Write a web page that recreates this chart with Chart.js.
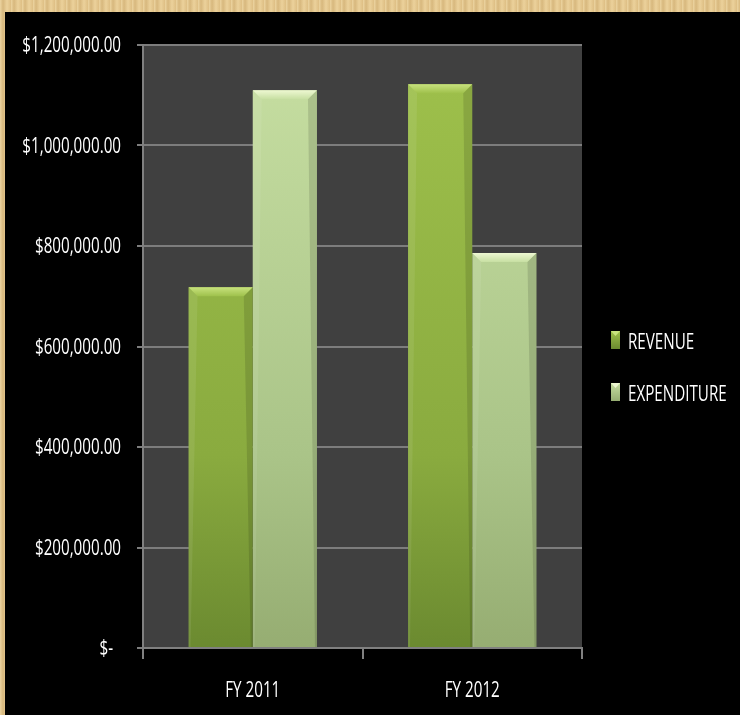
<!DOCTYPE html>
<html>
<head>
<meta charset="utf-8">
<script src="https://cdn.jsdelivr.net/npm/chart.js@4/dist/chart.umd.min.js"></script>
<style>
  html, body { margin: 0; padding: 0; }
  body {
    width: 740px; height: 715px; overflow: hidden; position: relative;
    background-color: #e3c68c;
    background-image:
      repeating-linear-gradient(90deg, rgba(255,240,200,0.35) 0px, rgba(180,140,80,0.25) 3px, rgba(255,235,190,0.3) 7px, rgba(200,160,100,0.2) 11px);
  }
  #wrap { position: absolute; left: 5px; top: 12px; width: 735px; height: 703px; background: #000; }
</style>
</head>
<body>
<div id="wrap"><canvas id="chart"></canvas></div>
<script>
document.addEventListener("DOMContentLoaded", function() {
    const categories = ['FY 2011', 'FY 2012'];
    const revenue = [718000, 1122000];
    const expenditure = [1110000, 786000];
    const seriesNames = ['REVENUE', 'EXPENDITURE'];

    const fontFamily = "'Open Sans', 'DejaVu Sans', sans-serif";
    const squeeze = 0.69;   // the original text is tall and narrow

    // body colours: [top, middle, bottom, bevel]
    const palette = [
        ['#9fc14c', '#8aab3f', '#6b8a30', '#c8e27e'],
        ['#c7dfa2', '#aac488', '#96ad72', '#eef8d2']
    ];

    function money(v) {
        if (v === 0) return '$-  ';
        return '$' + v.toLocaleString('en-US', { minimumFractionDigits: 2, maximumFractionDigits: 2 });
    }

    function narrowText(c, text, x, y, align) {
        c.save();
        c.translate(x, y);
        c.scale(squeeze, 1);
        c.textAlign = align;
        c.fillText(text, 0, 0);
        c.restore();
    }

    function barFill(idx) {
        return function(context) {
            const area = context.chart.chartArea;
            if (!area) return palette[idx][0];
            const g = context.chart.ctx.createLinearGradient(0, area.top, 0, area.bottom);
            g.addColorStop(0, palette[idx][0]);
            g.addColorStop(0.68, palette[idx][1]);
            g.addColorStop(1, palette[idx][2]);
            return g;
        };
    }

    const plotBackground = {
        id: 'plotBackground',
        beforeDraw(chart) {
            const a = chart.chartArea, c = chart.ctx;
            c.save();
            c.fillStyle = '#404040';
            c.fillRect(a.left, a.top, a.right - a.left, a.bottom - a.top);
            c.restore();
        }
    };

    // bevelled top edge, like the office 3D style
    const bevel = {
        id: 'bevel',
        afterDatasetsDraw(chart) {
            const c = chart.ctx;
            chart.data.datasets.forEach((ds, i) => {
                chart.getDatasetMeta(i).data.forEach(bar => {
                    const l = bar.x - bar.width / 2, r = bar.x + bar.width / 2;
                    const t = bar.y, b = 9;
                    c.save();
                    const g = c.createLinearGradient(0, t, 0, t + b);
                    g.addColorStop(0, palette[i][3]);
                    g.addColorStop(1, palette[i][0]);
                    c.fillStyle = g;
                    c.beginPath();
                    c.moveTo(l, t); c.lineTo(r, t); c.lineTo(r - b, t + b); c.lineTo(l + b, t + b);
                    c.closePath(); c.fill();
                    c.fillStyle = 'rgba(255,255,255,0.08)';
                    c.beginPath();
                    c.moveTo(l, t); c.lineTo(l + b, t + b); c.lineTo(l + 2, bar.base); c.lineTo(l, bar.base);
                    c.closePath(); c.fill();
                    c.fillStyle = 'rgba(0,0,0,0.12)';
                    c.beginPath();
                    c.moveTo(r, t); c.lineTo(r - b, t + b); c.lineTo(r - 2, bar.base); c.lineTo(r, bar.base);
                    c.closePath(); c.fill();
                    c.restore();
                });
            });
        }
    };

    // axis labels drawn at the library's tick positions, squeezed horizontally
    const axisText = {
        id: 'axisText',
        afterDraw(chart) {
            const c = chart.ctx, xs = chart.scales.x, ys = chart.scales.y;
            c.save();
            c.fillStyle = '#ffffff';
            c.font = '22px ' + fontFamily;
            c.textBaseline = 'middle';
            ys.ticks.forEach((t, i) => {
                narrowText(c, money(t.value), ys.right - 22, ys.getPixelForTick(i) + 1, 'right');
            });
            xs.ticks.forEach((t, i) => {
                narrowText(c, categories[t.value], xs.getPixelForTick(i), xs.top + 43, 'center');
            });
            c.restore();
        }
    };

    const sideLegend = {
        id: 'sideLegend',
        afterDraw(chart) {
            const c = chart.ctx;
            const x = chart.chartArea.right + 29;
            const ys = [330, 382];
            c.save();
            c.font = '22px ' + fontFamily;
            c.textBaseline = 'middle';
            seriesNames.forEach((name, i) => {
                const top = ys[i] - 11;
                const g = c.createLinearGradient(0, top, 0, top + 18);
                g.addColorStop(0, palette[i][0]);
                g.addColorStop(1, palette[i][2]);
                c.fillStyle = g;
                c.fillRect(x, top, 9, 18);
                c.fillStyle = palette[i][3];
                c.beginPath();
                c.moveTo(x, top); c.lineTo(x + 9, top); c.lineTo(x + 4.5, top + 5);
                c.closePath(); c.fill();
                c.fillStyle = '#ffffff';
                narrowText(c, name, x + 17, ys[i] + 1, 'left');
            });
            c.restore();
        }
    };

    const ctx = document.getElementById('chart').getContext('2d');
    new Chart(ctx, {
        type: 'bar',
        data: {
            labels: categories,
            datasets: [
                { label: seriesNames[0], data: revenue, backgroundColor: barFill(0), borderWidth: 0,
                  categoryPercentage: 0.585, barPercentage: 1.0 },
                { label: seriesNames[1], data: expenditure, backgroundColor: barFill(1), borderWidth: 0,
                  categoryPercentage: 0.585, barPercentage: 1.0 }
            ]
        },
        options: {
            responsive: true,
            maintainAspectRatio: false,
            animation: false,
            layout: { padding: { top: 33, right: 158, left: 0, bottom: 0 } },
            plugins: { legend: { display: false }, tooltip: { enabled: false } },
            scales: {
                x: {
                    afterFit(scale) { scale.height = 67; },
                    grid: { drawOnChartArea: false, color: '#808080', lineWidth: 2, tickLength: 11 },
                    border: { color: '#808080', width: 2 },
                    ticks: { display: false }
                },
                y: {
                    min: 0, max: 1200000,
                    afterFit(scale) { scale.width = 138; },
                    grid: { color: '#7d7d7d', lineWidth: 2, tickLength: 6 },
                    border: { color: '#808080', width: 2 },
                    ticks: { display: false, stepSize: 200000 }
                }
            }
        },
        plugins: [plotBackground, bevel, axisText, sideLegend]
    });
});
</script>
</body>
</html>
